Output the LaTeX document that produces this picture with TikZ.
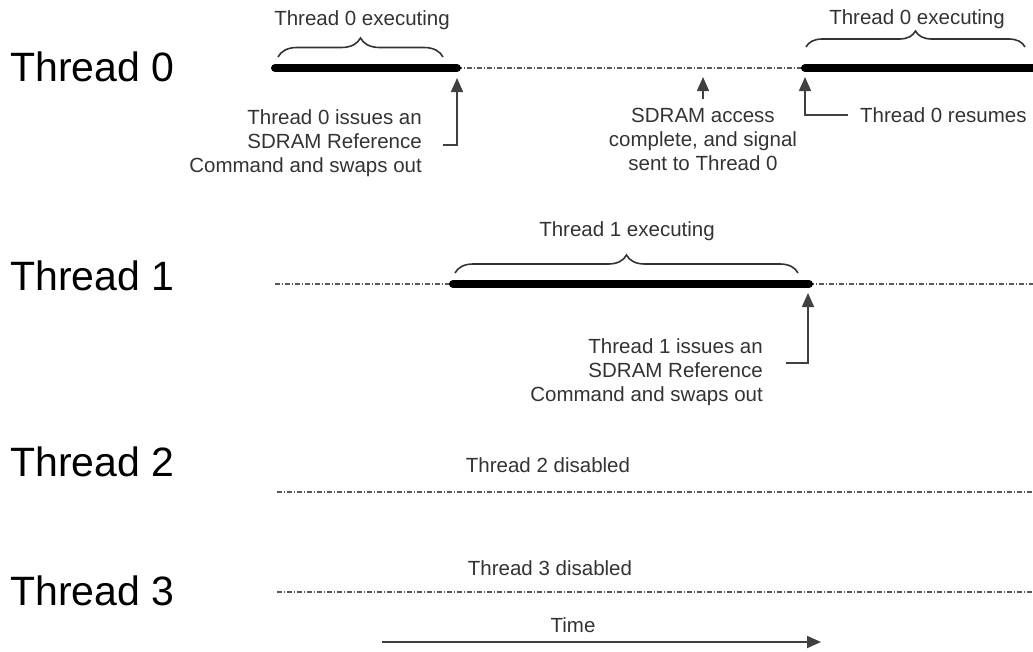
\documentclass[tikz,border=0pt]{standalone}
\usepackage{fontspec}
\setmainfont{Liberation Sans}
\usetikzlibrary{arrows.meta,decorations.pathreplacing}

\begin{document}
\begin{tikzpicture}[x=1pt,y=-1pt,
  lbl/.style={font=\fontsize{41}{45}\selectfont, anchor=west, inner sep=0pt},
  note/.style={font=\fontsize{20.5}{24}\selectfont, text=black!80, inner sep=0pt, align=center},
  idle/.style={draw=black!65, line width=1.4pt, dash pattern=on 5pt off 2pt on 1pt off 2pt},
  busy/.style={line width=8pt, line cap=round},
  pointer/.style={draw=black!75, line width=1.6pt, -{Triangle[length=14pt,width=12pt]}},
  span/.style={draw=black!80, line width=1.6pt, decorate, decoration={brace, amplitude=#1}},
  span/.default=17pt,
]
\useasboundingbox (0,0) rectangle (1033,651);

% thread names
\node[lbl] (t0) at (10,67)  {Thread 0};
\node[lbl] (t1) at (10,276) {Thread 1};
\node[lbl] (t2) at (10,462) {Thread 2};
\node[lbl] (t3) at (10,591) {Thread 3};

% ---- Thread 0 timeline
\coordinate (a0) at (275,68);
\coordinate (b0) at (457,68);
\coordinate (c0) at (805,68);
\coordinate (d0) at (1033,68);
\draw[idle] (b0) -- (c0);
\draw[busy] (a0) -- (b0);
\draw[busy] (c0) -- (d0);

\draw[span=19pt] (278,57) -- (443,57);
\node[note] (e0a) at (362,20) {Thread 0 executing};
\draw[span=16pt] (806,47) -- (1025,47);
\node[note] (e0b) at (917,19) {Thread 0 executing};

% swap out
\node[note, align=right, anchor=east] (n0) at (422,143)
  {Thread 0 issues an\\SDRAM Reference\\Command and swaps out};
\coordinate (h0) at (457,78);
\draw[pointer] ([xshift=21pt,yshift=-2pt]n0.east) -| (h0);

% memory access done
\node[note] (n2) at (703,139)
  {SDRAM access\\complete, and signal\\sent to Thread 0};
\coordinate (h2) at (703,77);
\draw[pointer] ([yshift=9pt]n2.north) -- (h2);

% resume
\node[note, anchor=west] (n3) at (860,115) {Thread 0 resumes};
\coordinate (h3) at (805,77);
\draw[pointer] ([xshift=-12pt]n3.west) -| (h3);

% ---- Thread 1 timeline
\coordinate (a1) at (275,284);
\coordinate (b1) at (453,284);
\coordinate (c1) at (809,284);
\coordinate (d1) at (1033,284);
\draw[idle] (a1) -- (b1);
\draw[idle] (c1) -- (d1);
\draw[busy] (b1) -- (c1);

\draw[span=18pt] (455,273) -- (798,273);
\node[note] (e1) at (627,231) {Thread 1 executing};

\node[note, align=right, anchor=east] (n1) at (763,372)
  {Thread 1 issues an\\SDRAM Reference\\Command and swaps out};
\coordinate (h1) at (808,293);
\draw[pointer] ([xshift=23pt,yshift=9pt]n1.east) -| (h1);

% ---- Thread 2 timeline
\coordinate (a2) at (277,492);
\coordinate (d2) at (1033,492);
\draw[idle] (a2) -- (d2);
\node[note] (x2) at (548,465) {Thread 2 disabled};

% ---- Thread 3 timeline
\coordinate (a3) at (277,592);
\coordinate (d3) at (1033,592);
\draw[idle] (a3) -- (d3);
\node[note] (x3) at (550,568) {Thread 3 disabled};

% time axis
\node[note] (tm) at (573,625) {Time};
\coordinate (ts) at (382,642);
\coordinate (te) at (821,642);
\draw[pointer, line width=1.8pt] (ts) -- (te);
\end{tikzpicture}
\end{document}
